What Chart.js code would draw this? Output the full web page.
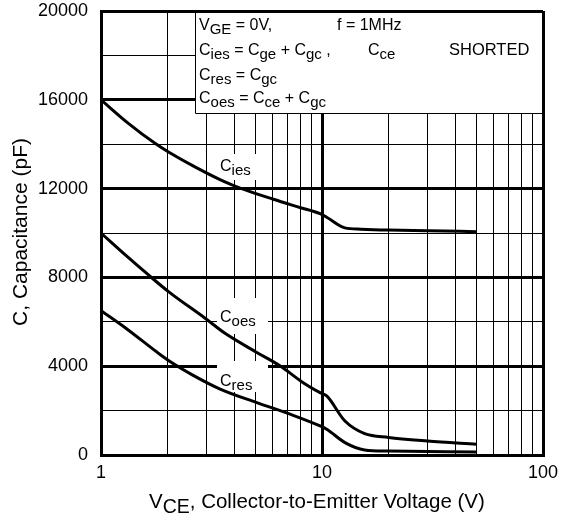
<!DOCTYPE html>
<html>
<head>
<meta charset="utf-8">
<script src="https://cdn.jsdelivr.net/npm/chart.js@4/dist/chart.umd.min.js"></script>
<style>
  html, body { margin: 0; padding: 0; background: #fff; }
  #wrap { width: 562px; height: 519px; }
</style>
</head>
<body>
<div id="wrap"><canvas id="c" width="562" height="519"></canvas></div>
<script>
// ---- data ----
const ciesX = [1, 1.33, 1.755, 2.02, 2.66, 3.64, 4.26, 6.02, 8, 9.8, 10.5, 12.7, 15, 20, 30, 50];
const ciesY = [16000, 14940, 14040, 13650, 12980, 12300, 12020, 11520, 11140, 10870, 10710, 10230, 10170, 10130, 10100, 10060];
const coesX = [1, 1.3, 1.64, 2.02, 2.96, 3.64, 5.07, 6.45, 8.22, 9.8, 10.5, 12.7, 15.6, 20, 30, 50];
const coesY = [10000, 8980, 8110, 7360, 6160, 5480, 4620, 4020, 3260, 2810, 2660, 1530, 960, 790, 630, 480];
const cresX = [1, 1.3, 1.85, 2.12, 2.6, 3.46, 5.07, 7.17, 9.8, 10.5, 12.7, 15.6, 20, 50];
const cresY = [6500, 5700, 4530, 4120, 3600, 2970, 2360, 1840, 1310, 1160, 560, 230, 180, 140];
const xTickValues = [1,2,3,4,5,6,7,8,9,10,20,30,40,50,60,70,80,90,100];
const xLabelValues = [1, 10, 100];
const yLabelValues = [0, 4000, 8000, 12000, 16000, 20000];

const FONT = '"Liberation Sans", Arial, sans-serif';
const pts = (xs, ys) => xs.map((x, i) => ({x: x, y: ys[i]}));

function drawRich(ctx, x, y, segs, size, subSize, subDy) {
  ctx.textAlign = 'left';
  ctx.textBaseline = 'alphabetic';
  for (const s of segs) {
    const sub = s[1] === 1;
    ctx.font = (sub ? subSize : size) + 'px ' + FONT;
    ctx.fillText(s[0], x, y + (sub ? subDy : 0));
    x += ctx.measureText(s[0]).width;
  }
  return x;
}

const deco = {
  id: 'deco',
  beforeDatasetsDraw(chart) {
    const ctx = chart.ctx;
    const a = chart.chartArea;
    ctx.save();
    // legend box
    ctx.fillStyle = '#fff';
    ctx.fillRect(195, a.top + 2, a.right - 195, 113 - a.top - 2);
    ctx.strokeStyle = '#000';
    ctx.lineWidth = 3;
    ctx.beginPath();
    ctx.moveTo(a.right + 0.5, a.top);
    ctx.lineTo(a.right + 0.5, 115);
    ctx.stroke();
    ctx.lineWidth = 1;
    ctx.beginPath();
    ctx.moveTo(195.5, a.top + 1);
    ctx.lineTo(195.5, 113.5);
    ctx.lineTo(a.right - 1, 113.5);
    ctx.stroke();
    // curve label backgrounds
    ctx.fillStyle = '#fff';
    ctx.fillRect(217, 154, 48, 26);
    ctx.fillRect(217, 298, 51, 36);
    ctx.fillRect(217, 361, 51, 31);
    ctx.restore();
  },
  afterDraw(chart) {
    const ctx = chart.ctx;
    ctx.save();
    ctx.fillStyle = '#000';
    // legend text
    drawRich(ctx, 199, 30, [['V'], ['GE', 1], [' = 0V,']], 16, 15, 4);
    drawRich(ctx, 337, 30, [['f = 1MHz']], 16, 15, 4);
    drawRich(ctx, 199, 55, [['C'], ['ies', 1], [' = C'], ['ge', 1], [' + C'], ['gc', 1], [' ,']], 16, 15, 4);
    drawRich(ctx, 368, 55, [['C'], ['ce', 1]], 16, 15, 4);
    drawRich(ctx, 449, 55, [['SHORTED']], 16.5, 15, 4);
    drawRich(ctx, 199, 80, [['C'], ['res', 1], [' = C'], ['gc', 1]], 16, 15, 4);
    drawRich(ctx, 199, 103, [['C'], ['oes', 1], [' = C'], ['ce', 1], [' + C'], ['gc', 1]], 16, 15, 4);
    // curve labels
    drawRich(ctx, 220, 171, [['C'], ['ies', 1]], 16, 15, 4);
    drawRich(ctx, 220, 322, [['C'], ['oes', 1]], 16, 15, 4);
    drawRich(ctx, 220, 386, [['C'], ['res', 1]], 16, 15, 4);
    // x axis title
    drawRich(ctx, 149, 508, [['V'], ['CE', 1], [', Collector-to-Emitter Voltage (V)']], 20.5, 19.5, 5);
    // y axis title
    ctx.translate(27, 232);
    ctx.rotate(-Math.PI / 2);
    ctx.font = '21px ' + FONT;
    ctx.textAlign = 'center';
    ctx.textBaseline = 'alphabetic';
    ctx.fillText('C, Capacitance (pF)', 0, 0);
    ctx.restore();
  }
};

const line = { borderColor: '#000', borderWidth: 3, pointRadius: 0, fill: false, cubicInterpolationMode: 'monotone' };

new Chart(document.getElementById('c'), {
  type: 'line',
  data: {
    datasets: [
      Object.assign({ label: 'Cies', data: pts(ciesX, ciesY) }, line),
      Object.assign({ label: 'Coes', data: pts(coesX, coesY) }, line),
      Object.assign({ label: 'Cres', data: pts(cresX, cresY) }, line)
    ]
  },
  options: {
    responsive: false,
    animation: false,
    layout: { padding: { top: 11, right: 19, bottom: 0, left: 0 } },
    plugins: { legend: { display: false }, tooltip: { enabled: false } },
    scales: {
      x: {
        type: 'logarithmic', min: 1, max: 100,
        afterBuildTicks: s => { s.ticks = xTickValues.map(v => ({ value: v })); },
        afterFit: s => { s.height = 64; s.paddingLeft = 0; s.paddingRight = 0; },
        ticks: {
          autoSkip: false, maxRotation: 0, padding: 7, color: '#000',
          font: { family: FONT, size: 18 },
          callback: v => xLabelValues.includes(v) ? String(v) : ''
        },
        grid: { color: '#000', drawTicks: false, lineWidth: c => (c.tick && xLabelValues.includes(c.tick.value)) ? 3 : 1 },
        border: { display: true, width: 3, color: '#000' }
      },
      y: {
        min: 0, max: 20000,
        afterFit: s => { s.width = 101; s.paddingTop = 0; s.paddingBottom = 0; },
        ticks: {
          stepSize: 2000, padding: 13, color: '#000',
          font: { family: FONT, size: 18 },
          callback: v => yLabelValues.includes(v) ? String(v) : ''
        },
        grid: { color: '#000', drawTicks: false, lineWidth: c => (c.tick && yLabelValues.includes(c.tick.value)) ? 3 : 1 },
        border: { display: true, width: 3, color: '#000' }
      }
    }
  },
  plugins: [deco]
});
</script>
</body>
</html>
